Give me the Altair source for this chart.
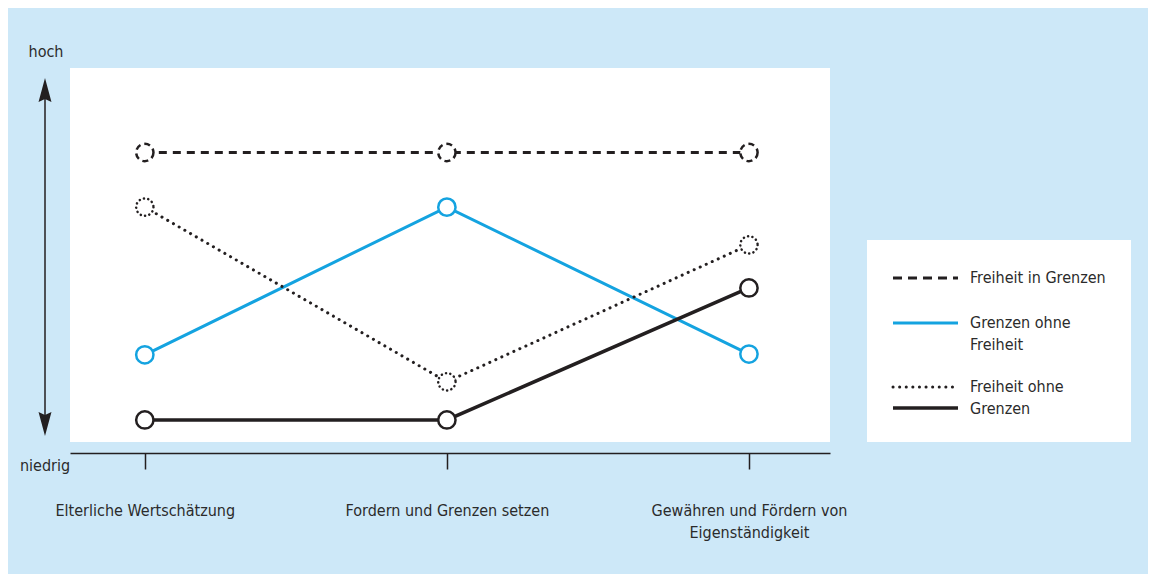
import altair as alt
import pandas as pd

# ---------------- data ----------------
categories = [
    "Elterliche Wertschätzung",
    "Fordern und Grenzen setzen",
    "Gewähren und Fördern von Eigenständigkeit",
]
series_names = [
    "Freiheit in Grenzen",
    "Grenzen ohne Freiheit",
    "Freiheit ohne Grenzen",
    "Weder Freiheit noch Grenzen",
]
freiheit_in_grenzen = [7.74, 7.74, 7.74]
grenzen_ohne_freiheit = [2.33, 6.28, 2.35]
freiheit_ohne_grenzen = [6.28, 1.61, 5.27]
weder_freiheit_noch_grenzen = [0.59, 0.59, 4.12]
legend_labels = [["Freiheit in Grenzen"], ["Grenzen ohne", "Freiheit"], ["Freiheit ohne", "Grenzen"]]
label_high = "hoch"
label_low = "niedrig"

values = [freiheit_in_grenzen, grenzen_ohne_freiheit, freiheit_ohne_grenzen, weder_freiheit_noch_grenzen]
rows = []
for name, vals in zip(series_names, values):
    for cat, v in zip(categories, vals):
        rows.append({"category": cat, "series": name, "value": v})
df = pd.DataFrame(rows)

# ---------------- styles ----------------
FONT = "Liberation Sans Narrow, DejaVu Sans Condensed, Roboto"
TXT = "#2b2b2b"
BLACK = "#231f20"
BLUE = "#14a3e0"
styles = {
    "Freiheit in Grenzen": dict(color=BLACK, dash=[8, 6], width=3, cap="butt", pdash=[6, 4]),
    "Grenzen ohne Freiheit": dict(color=BLUE, dash=None, width=3, cap="butt", pdash=None),
    "Freiheit ohne Grenzen": dict(color=BLACK, dash=[0.1, 6.5], width=3, cap="round", pdash=[0.1, 4.3]),
    "Weder Freiheit noch Grenzen": dict(color=BLACK, dash=None, width=3.5, cap="butt", pdash=None),
}

W, H = 760, 374

x_enc = alt.X(
    "category:N",
    sort=categories,
    scale=alt.Scale(type="point", padding=0.258, align=0.48),
    axis=alt.Axis(
        title=None,
        orient="bottom",
        offset=11,
        grid=False,
        domainColor=BLACK,
        domainWidth=1.5,
        tickColor=BLACK,
        tickWidth=1.5,
        tickSize=16,
        labelPadding=33,
        labelAngle=0,
        labelFont=FONT,
        labelFontSize=16,
        labelColor=TXT,
        labelLineHeight=22,
        labelLimit=400,
        labelOverlap=False,
        labelExpr="indexof(datum.label, ' von ') > 0 ? [slice(datum.label, 0, indexof(datum.label, ' von ') + 4), slice(datum.label, indexof(datum.label, ' von ') + 5)] : datum.label",
    ),
)
y_enc = alt.Y("value:Q", scale=alt.Scale(domain=[0, 10]), axis=None)

base = alt.Chart(df)
layers = []
for name in series_names:
    s = styles[name]
    kw = dict(color=s["color"], strokeWidth=s["width"], strokeCap=s["cap"])
    if s["dash"]:
        kw["strokeDash"] = s["dash"]
    layers.append(
        base.transform_filter(alt.datum.series == name).mark_line(**kw).encode(x=x_enc, y=y_enc)
    )
for name in series_names:
    s = styles[name]
    kw = dict(filled=True, fill="white", stroke=s["color"], strokeWidth=2.5, size=300,
              shape="circle", opacity=1, strokeCap=s["cap"])
    if s["pdash"]:
        kw["strokeDash"] = s["pdash"]
    layers.append(
        base.transform_filter(alt.datum.series == name).mark_point(**kw).encode(x=x_enc, y=y_enc)
    )

# ---------------- vertical arrow ----------------
deco = alt.Chart(pd.DataFrame({"d": [0]}))
layers.append(deco.mark_rule(color=BLACK, strokeWidth=1.5).encode(
    x=alt.value(-25), y=alt.value(14), y2=alt.value(362)))
layers.append(deco.mark_point(filled=True, color=BLACK, opacity=1, size=576,
                              shape="M0,-1L0.54,1L0,0.75L-0.54,1Z").encode(
    x=alt.value(-25), y=alt.value(22)))
layers.append(deco.mark_point(filled=True, color=BLACK, opacity=1, size=576,
                              shape="M0,1L0.54,-1L0,-0.75L-0.54,-1Z").encode(
    x=alt.value(-25), y=alt.value(356)))
layers.append(deco.mark_text(font=FONT, fontSize=16, color=TXT, align="center", baseline="middle").encode(
    x=alt.value(-24), y=alt.value(-16), text=alt.value(label_high)))
layers.append(deco.mark_text(font=FONT, fontSize=16, color=TXT, align="center", baseline="middle").encode(
    x=alt.value(-25), y=alt.value(398), text=alt.value(label_low)))

# ---------------- legend ----------------
layers.append(deco.mark_rect(color="white").encode(
    x=alt.value(797), x2=alt.value(1061), y=alt.value(172), y2=alt.value(374)))
legend_line_y = [210, 255, 319, 340]
for name, ly in zip(series_names, legend_line_y):
    s = styles[name]
    kw = dict(color=s["color"], strokeWidth=s["width"], strokeCap=s["cap"])
    if s["dash"]:
        kw["strokeDash"] = [9, 6] if s["dash"][0] > 1 else [0.1, 6.5]
    layers.append(deco.mark_rule(**kw).encode(
        x=alt.value(823), x2=alt.value(888), y=alt.value(ly)))
legend_text_y = [210, 255, 319]
for lines, ty in zip(legend_labels, legend_text_y):
    for i, line in enumerate(lines):
        layers.append(deco.mark_text(font=FONT, fontSize=16, color=TXT, align="left", baseline="middle").encode(
            x=alt.value(900), y=alt.value(ty + i * 22), text=alt.value(line)))

chart = alt.layer(*layers).properties(
    width=W,
    height=H,
    padding={"left": 62, "top": 60, "right": 318, "bottom": 132},
    autosize=alt.AutoSizeParams(type="none"),
).configure(background="#cde8f8").configure_view(fill="white", strokeWidth=0)

chart.save("out.html", embed_options={"renderer": "svg", "actions": False})
